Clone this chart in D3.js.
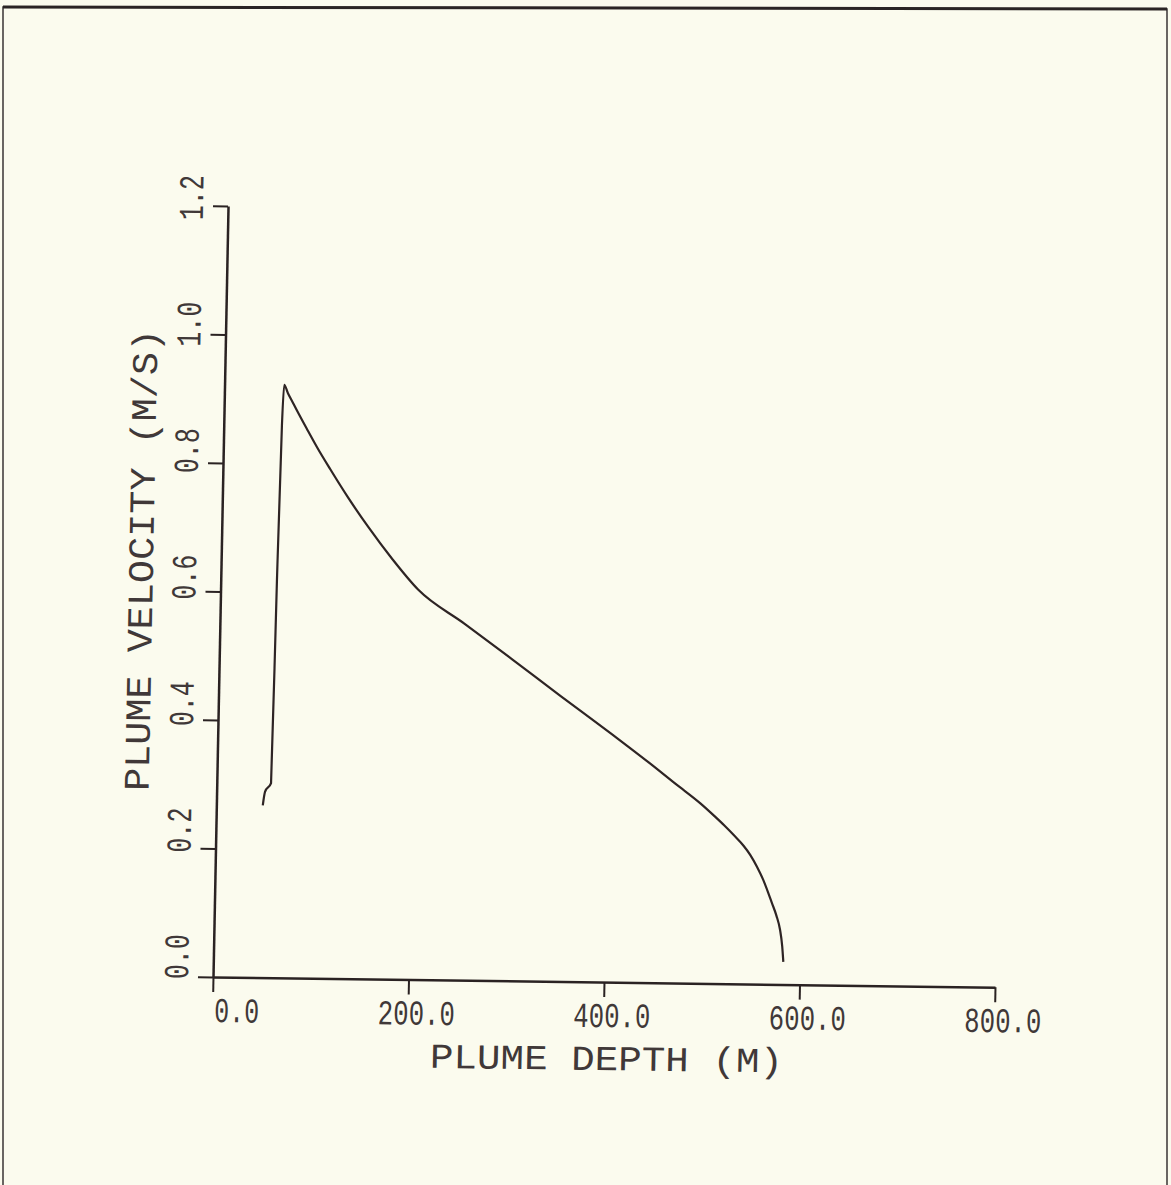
<!DOCTYPE html>
<html>
<head>
<meta charset="utf-8">
<script src="https://cdn.jsdelivr.net/npm/d3@7"></script>
<style>
	body { margin: 0; background: #fbfbee; }
	svg { display: block; }
	.axis .domain { stroke: #2a2222; stroke-width: 2.5; }
	.axis .tick line { stroke: #2a2222; stroke-width: 2; }
	.lbl { font-family: 'Liberation Mono', 'DejaVu Sans Mono', monospace; fill: #403838; }
</style>
</head>
<body>
<svg></svg>
<script>
// plume depth (m) vs plume velocity (m/s)
const depth = [47.5, 49.5, 55.5, 57.5, 59.5, 61, 65, 70, 75, 85, 96, 110, 128.5, 150, 175, 202, 250, 300, 350, 403, 420, 442, 470, 495, 510, 520, 530, 540, 547, 554, 560.6, 566, 570, 575, 579, 581.5, 583];
const velocity = [0.268, 0.289, 0.303, 0.62, 0.86, 0.923, 0.910, 0.896, 0.882, 0.855, 0.826, 0.792, 0.749, 0.703, 0.654, 0.607, 0.555, 0.5, 0.444, 0.386, 0.367, 0.342, 0.309, 0.28, 0.26, 0.246, 0.231, 0.215, 0.201, 0.183, 0.163, 0.143, 0.127, 0.107, 0.085, 0.06, 0.035];

const xTicks = [0, 200, 400, 600, 800];
const yTicks = [0, 0.2, 0.4, 0.6, 0.8, 1.0, 1.2];
const xTitle = 'PLUME DEPTH (M)';
const yTitle = 'PLUME VELOCITY (M/S)';

const width = 1171,
	height = 1185,
	plotW = 782,
	plotH = 771,
	pitch = 16;

const svg = d3.select('svg').attr('width', width).attr('height', height);

svg.append('rect').attr('width', width).attr('height', height).attr('fill', '#fbfbee');

// page frame of the scan
svg.append('path')
	.attr('d', 'M3,1185L3,7L1167,9L1167,1185')
	.attr('fill', 'none')
	.attr('stroke', '#3a3434')
	.attr('stroke-width', 1.5);
svg.append('line')
	.attr('x1', 3).attr('y1', 7).attr('x2', 1167).attr('y2', 9)
	.attr('stroke', '#2a2424').attr('stroke-width', 3);

// the scanned plot is slightly skewed
const g = svg.append('g').attr('transform', 'matrix(1,0.013,-0.0195,1,213,977)');

const x = d3.scaleLinear().domain([0, 800]).range([0, plotW]);
const y = d3.scaleLinear().domain([0, 1.2]).range([0, -plotH]);

g.append('g')
	.attr('class', 'axis')
	.call(d3.axisBottom(x).tickValues(xTicks).tickSize(15).tickSizeOuter(0).tickFormat(''));

g.append('g')
	.attr('class', 'axis')
	.call(d3.axisLeft(y).tickValues(yTicks).tickSize(15).tickSizeOuter(0).tickFormat(''));

g.selectAll('.axis text').remove();

// x tick labels, lined up on the decimal point
g.selectAll('.xlbl')
	.data(xTicks)
	.enter().append('text')
	.attr('class', 'lbl')
	.attr('font-size', 35)
	.attr('x', function (d) {
		let intDigits = String(Math.floor(d)).length;
		return x(d) + 26 - (intDigits + 0.5) * pitch;
	})
	.attr('y', 45)
	.attr('textLength', function (d) { return d3.format('.1f')(d).length * pitch - 3; })
	.attr('lengthAdjust', 'spacingAndGlyphs')
	.text(function (d) { return d3.format('.1f')(d); });

g.selectAll('.ylbl')
	.data(yTicks)
	.enter().append('text')
	.attr('class', 'lbl')
	.attr('font-size', 35)
	.attr('text-anchor', 'middle')
	.attr('transform', function (d) { return `translate(-25,${y(d) - 20 + 10 * d}) rotate(-90)`; })
	.attr('textLength', 3 * pitch - 3)
	.attr('lengthAdjust', 'spacingAndGlyphs')
	.text(function (d) { return d3.format('.1f')(d); });

g.append('text')
	.attr('class', 'lbl')
	.attr('font-size', 35)
	.attr('text-anchor', 'middle')
	.attr('x', 395)
	.attr('y', 88)
	.attr('textLength', 353)
	.attr('lengthAdjust', 'spacingAndGlyphs')
	.text(xTitle);

g.append('text')
	.attr('class', 'lbl')
	.attr('font-size', 36)
	.attr('text-anchor', 'middle')
	.attr('transform', 'translate(-68,-416) rotate(-90)')
	.attr('textLength', 462)
	.attr('lengthAdjust', 'spacingAndGlyphs')
	.text(yTitle);

const points = depth.map(function (d, i) { return [d, velocity[i]]; });

const line = d3.line()
	.x(function (d) { return x(d[0]); })
	.y(function (d) { return y(d[1]); })
	.curve(d3.curveMonotoneX);

g.append('path')
	.datum(points)
	.attr('fill', 'none')
	.attr('stroke', '#2e2424')
	.attr('stroke-width', 2.2)
	.attr('stroke-linejoin', 'round')
	.attr('d', line);
</script>
</body>
</html>
